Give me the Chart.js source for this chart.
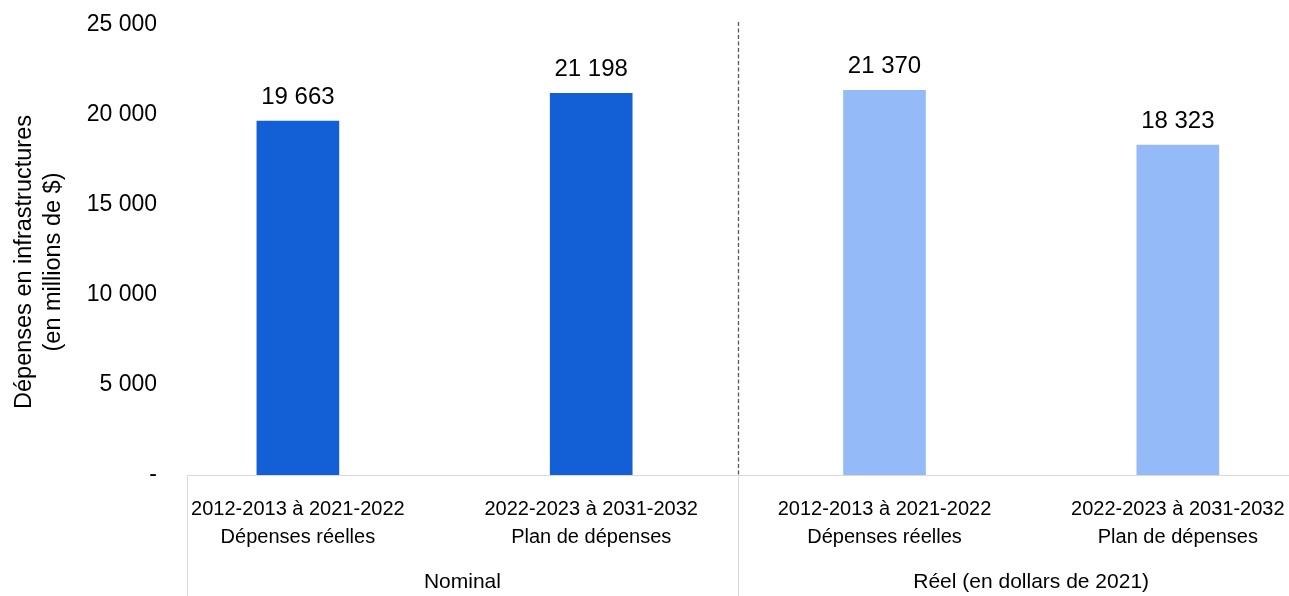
<!DOCTYPE html>
<html>
<head>
<meta charset="utf-8">
<script src="https://cdn.jsdelivr.net/npm/chart.js@4.4.1/dist/chart.umd.min.js"></script>
<style>
  html, body { margin: 0; padding: 0; background: #fff; overflow: hidden; }
  #cadre { width: 1289px; height: 596px; }
</style>
</head>
<body>
<div id="cadre"><canvas id="graphique"></canvas></div>
<script>
// donnees du graphique
var categories = ["2012-2013 à 2021-2022", "2022-2023 à 2031-2032", "2012-2013 à 2021-2022", "2022-2023 à 2031-2032"];
var sousTitres = ["Dépenses réelles", "Plan de dépenses", "Dépenses réelles", "Plan de dépenses"];
var groupes = ["Nominal", "Réel (en dollars de 2021)"];
var groupeDe = [0, 0, 1, 1];
var depenses = [19663, 21198, 21370, 18323];
var graduations = [0, 5000, 10000, 15000, 20000, 25000];
var titreAxe = ["Dépenses en infrastructures", "(en millions de $)"];

var BLEU = "#1360d6";
var BLEU_PALE = "#94bbf7";
var POLICE = "'Liberation Sans', Arial, sans-serif";

Chart.defaults.font.family = POLICE;
Chart.defaults.color = "#000";

function fmt(v) {
	return String(v).replace(/\B(?=(\d{3})+(?!\d))/g, " ");
}

var decor = {
	id: 'decor',
	afterDatasetsDraw: function(chart) {
		var ctx = chart.ctx;
		var meta = chart.getDatasetMeta(0);
		ctx.save();
		ctx.fillStyle = "#000";
		ctx.font = "24px " + POLICE;
		ctx.textAlign = "center";
		ctx.textBaseline = "alphabetic";
		meta.data.forEach(function(barre, i) {
			ctx.fillText(fmt(depenses[i]), barre.x, barre.y - 17);
		});
		ctx.restore();
	},
	afterDraw: function(chart) {
		var ctx = chart.ctx;
		var x = chart.scales.x;
		var aire = chart.chartArea;
		var bas = chart.height;
		ctx.save();

		// limites des groupes
		var limites = [aire.left];
		for (var i = 1; i < groupeDe.length; i++) {
			if (groupeDe[i] !== groupeDe[i - 1]) limites.push(x.getPixelForValue(i - 0.5));
		}
		limites.push(x.getPixelForValue(groupeDe.length - 0.5));

		ctx.strokeStyle = "#d9d9d9";
		ctx.lineWidth = 1;
		for (var j = 0; j < limites.length - 1; j++) {
			var lx = Math.round(limites[j]) + 0.5;
			ctx.beginPath();
			ctx.moveTo(lx, aire.bottom);
			ctx.lineTo(lx, bas);
			ctx.stroke();
		}

		// ligne pointillee entre nominal et reel
		ctx.strokeStyle = "#595959";
		ctx.lineWidth = 1.3;
		ctx.setLineDash([4, 2.5]);
		for (var k = 1; k < limites.length - 1; k++) {
			var px = Math.round(limites[k]) + 0.5;
			ctx.beginPath();
			ctx.moveTo(px, 22);
			ctx.lineTo(px, aire.bottom);
			ctx.stroke();
		}
		ctx.setLineDash([]);

		// noms des groupes
		ctx.fillStyle = "#000";
		ctx.font = "21px " + POLICE;
		ctx.textAlign = "center";
		ctx.textBaseline = "middle";
		groupes.forEach(function(g, n) {
			ctx.fillText(g, (limites[n] + limites[n + 1]) / 2, 582);
		});

		// titre de l'axe vertical
		ctx.translate(0, (aire.top + aire.bottom) / 2 + 12);
		ctx.rotate(-Math.PI / 2);
		ctx.font = "23.5px " + POLICE;
		ctx.fillText(titreAxe[0], 0, 25);
		ctx.fillText(titreAxe[1], 0, 54);
		ctx.restore();
	}
};

new Chart(document.getElementById('graphique'), {
	type: 'bar',
	data: {
		datasets: [{
			data: depenses.map(function(v, i) { return {x: i, y: v}; }),
			backgroundColor: depenses.map(function(v, i) { return groupeDe[i] === 0 ? BLEU : BLEU_PALE; }),
			barThickness: 82,
			borderWidth: 0
		}]
	},
	options: {
		responsive: true,
		maintainAspectRatio: false,
		animation: false,
		layout: { padding: { top: 25, left: 0, right: 0, bottom: 0 } },
		plugins: {
			legend: { display: false },
			tooltip: { enabled: false }
		},
		scales: {
			x: {
				type: 'linear',
				offset: false,
				min: -0.378,
				max: 3.379,
				grid: { display: false, drawTicks: false },
				border: { display: true, color: "#d9d9d9", width: 1 },
				afterBuildTicks: function(s) {
					s.ticks = categories.map(function(c, i) { return {value: i}; });
				},
				ticks: {
					autoSkip: false,
					maxRotation: 0,
					padding: 20,
					font: { size: 20, lineHeight: 1.4 },
					callback: function(v, i) { return [categories[i], sousTitres[i]]; }
				},
				afterFit: function(s) {
					s.height = 121;
					s.paddingLeft = 0;
					s.paddingRight = 0;
				}
			},
			y: {
				min: 0,
				max: 25000,
				grid: { display: false, drawTicks: false },
				border: { display: false },
				afterBuildTicks: function(s) {
					s.ticks = graduations.map(function(v) { return {value: v}; });
				},
				ticks: {
					padding: 30,
					font: { size: 23 },
					callback: function(v) { return v === 0 ? "-" : fmt(v); }
				},
				afterFit: function(s) {
					s.width = 187;
					s.paddingTop = 0;
					s.paddingBottom = 0;
				}
			}
		}
	},
	plugins: [decor]
});
</script>
</body>
</html>
